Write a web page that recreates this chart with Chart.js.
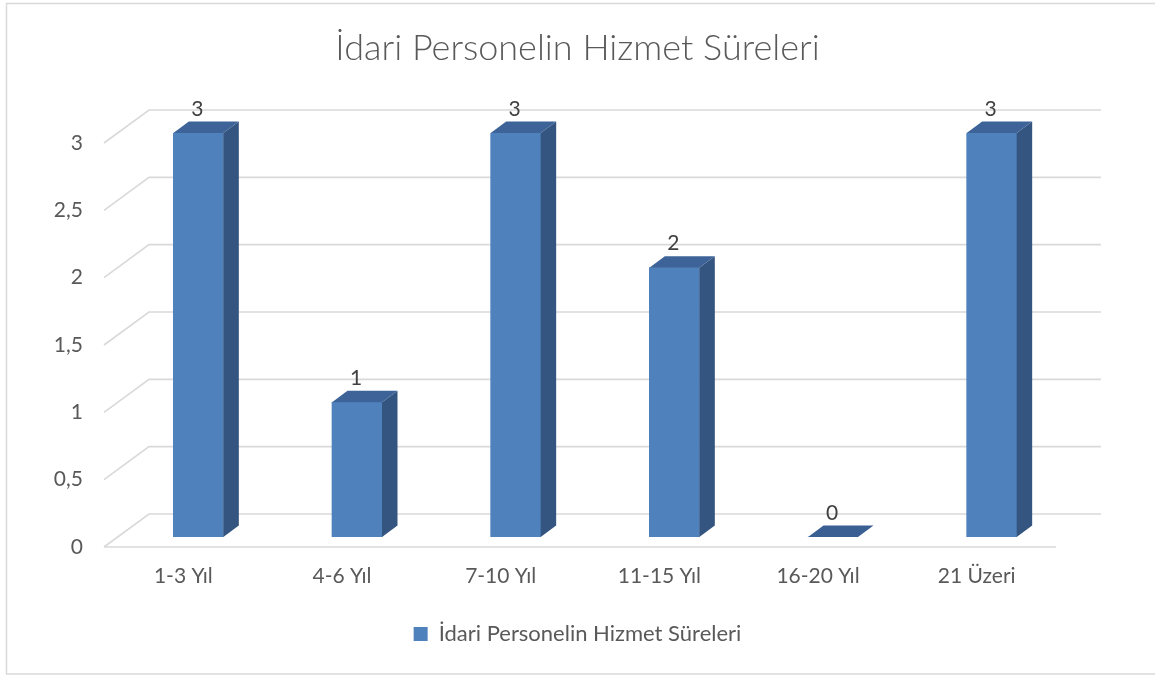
<!DOCTYPE html>
<html>
<head>
<meta charset="utf-8">
<script src="https://cdn.jsdelivr.net/npm/chart.js@4.4.1/dist/chart.umd.min.js"></script>
<style>
  html, body { margin: 0; padding: 0; background: #fff; }
  #wrap { width: 1155px; height: 675px; }
</style>
</head>
<body>
<div id="wrap"><canvas id="myChart" width="1155" height="675"></canvas></div>
<script>
// chart data
const categories = ["1-3 Yıl", "4-6 Yıl", "7-10 Yıl", "11-15 Yıl", "16-20 Yıl", "21 Üzeri"];
const seriesName = "İdari Personelin Hizmet Süreleri";
const values = [3, 1, 3, 2, 0, 3];
const yTicks = [0, 0.5, 1, 1.5, 2, 2.5, 3];
const yTickLabels = ["0", "0,5", "1", "1,5", "2", "2,5", "3"];

// fake 3d offsets, relative to the plane the bar fronts sit in
const FRONT = { x: -15, y: 10 };
const BACK = { x: 30, y: -23 };
const BAR_DEPTH = { x: 15.5, y: -11.5 };

const FONT = "Lato, 'Open Sans', sans-serif";

const box3d = {
    id: 'box3d',
    beforeDraw(chart) {
        const ctx = chart.ctx;
        ctx.save();
        ctx.strokeStyle = '#d9d9d9';
        ctx.lineWidth = 1.5;
        ctx.strokeRect(6.5, 3.5, 1200, 670.5);
        ctx.restore();
    },
    beforeDatasetsDraw(chart) {
        const { ctx, chartArea: a, scales: { y } } = chart;
        ctx.save();
        ctx.strokeStyle = '#d9d9d9';
        ctx.lineWidth = 1.6;
        ctx.beginPath();
        y.ticks.forEach(t => {
            const py = y.getPixelForValue(t.value);
            ctx.moveTo(a.left + FRONT.x, py + FRONT.y);
            ctx.lineTo(a.left + BACK.x, py + BACK.y);
            ctx.lineTo(a.right + BACK.x, py + BACK.y);
        });
        // front edge of the floor
        ctx.moveTo(a.left + FRONT.x, a.bottom + FRONT.y);
        ctx.lineTo(a.right + FRONT.x, a.bottom + FRONT.y);
        ctx.stroke();
        ctx.restore();
    },
    afterDatasetsDraw(chart) {
        const ctx = chart.ctx;
        const meta = chart.getDatasetMeta(0);
        ctx.save();
        meta.data.forEach((bar, i) => {
            const { x, y, base, width } = bar.getProps(['x', 'y', 'base', 'width'], true);
            const l = x - width / 2, r = x + width / 2;
            // side
            ctx.fillStyle = '#34557f';
            ctx.beginPath();
            ctx.moveTo(r, y);
            ctx.lineTo(r + BAR_DEPTH.x, y + BAR_DEPTH.y);
            ctx.lineTo(r + BAR_DEPTH.x, base + BAR_DEPTH.y);
            ctx.lineTo(r, base);
            ctx.closePath();
            ctx.fill();
            // top
            ctx.fillStyle = values[i] === 0 ? '#3a5f93' : '#3d6399';
            ctx.beginPath();
            ctx.moveTo(l, y);
            ctx.lineTo(l + BAR_DEPTH.x, y + BAR_DEPTH.y);
            ctx.lineTo(r + BAR_DEPTH.x, y + BAR_DEPTH.y);
            ctx.lineTo(r, y);
            ctx.closePath();
            ctx.fill();
            // value label
            ctx.fillStyle = '#404040';
            ctx.font = '21px ' + FONT;
            ctx.textAlign = 'center';
            ctx.textBaseline = 'middle';
            ctx.fillText(String(values[i]), x - 1, y - 24);
        });
        ctx.restore();
    }
};

const data = {
    labels: categories,
    datasets: [{
        label: seriesName,
        data: values,
        backgroundColor: '#4f81bd',
        borderWidth: 0,
        barThickness: 50,
    }],
};

const config = {
    type: 'bar',
    data: data,
    options: {
        responsive: false,
        animation: false,
        layout: { padding: { left: 0, right: 0, top: 0, bottom: 20 } },
        plugins: {
            title: {
                display: true,
                text: seriesName,
                color: '#595959',
                font: { family: FONT, size: 36, weight: '300' },
                padding: { top: 26.4, bottom: 63.4 },
            },
            legend: {
                position: 'bottom',
                labels: {
                    color: '#595959',
                    font: { family: FONT, size: 22 },
                    boxWidth: 14,
                    boxHeight: 14,
                    padding: 10,
                },
            },
            tooltip: { enabled: false },
        },
        scales: {
            x: {
                grid: { display: false, drawTicks: false },
                border: { display: false },
                ticks: {
                    color: '#595959',
                    font: { family: FONT, size: 21 },
                    padding: 27,
                    labelOffset: -15,
                    maxRotation: 0,
                },
                afterFit: (s) => { s.height = 76; },
            },
            y: {
                min: 0,
                max: 3,
                grid: { display: false, drawTicks: false },
                border: { display: false },
                ticks: {
                    stepSize: 0.5,
                    color: '#595959',
                    font: { family: FONT, size: 21 },
                    padding: 36,
                    labelOffset: 10,
                    callback: (value) => yTickLabels[yTicks.indexOf(value)],
                },
                afterFit: (s) => { s.width = 119; },
            },
            // empty right axis, only reserves the space right of the floor
            yRight: {
                position: 'right',
                grid: { display: false, drawTicks: false },
                border: { display: false },
                ticks: { display: false },
                afterFit: (s) => { s.width = 84; },
            },
        },
    },
    plugins: [box3d],
};

const myChart = new Chart(document.getElementById('myChart').getContext('2d'), config);
</script>
</body>
</html>
